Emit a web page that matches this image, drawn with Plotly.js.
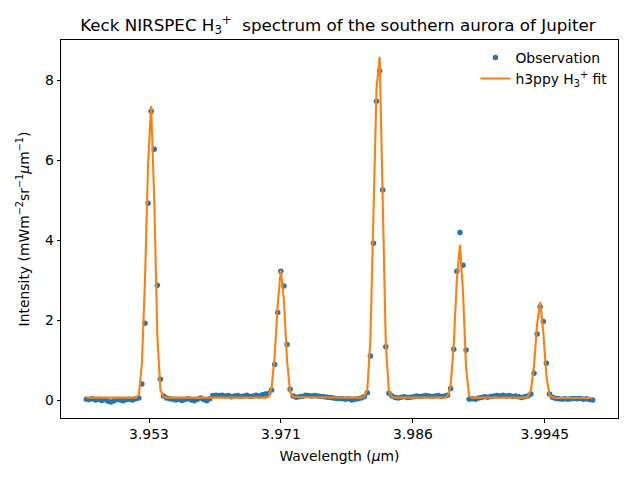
<!DOCTYPE html>
<html>
<head>
<meta charset="utf-8">
<script src="https://cdn.plot.ly/plotly-3.0.1.min.js"></script>
<style>html,body{margin:0;padding:0;background:#fff;}#chart{width:640px;height:480px;}</style>
</head>
<body>
<div id="chart"></div>
<script>
// Observed intensity per spectral pixel (index 0..164)
var observation = [
  0.02, 0.01, 0.03, 0.00, 0.02, -0.01, 0.01, -0.03, -0.05, -0.02,
  0.01, 0.00, -0.02, 0.01, 0.02, 0.00, 0.03, 0.05, 0.40, 1.92,
  4.92, 7.22, 6.27, 2.87, 0.52, 0.10, 0.05, 0.03, 0.02, 0.00,
  0.02, -0.01, 0.01, 0.03, 0.00, -0.02, 0.02, 0.05, 0.01, -0.02,
  0.03, 0.11, 0.12, 0.11, 0.12, 0.10, 0.11, 0.08, 0.10, 0.11,
  0.09, 0.10, 0.12, 0.09, 0.10, 0.12, 0.10, 0.13, 0.15, 0.16,
  0.25, 0.89, 2.19, 3.22, 2.85, 1.39, 0.27, 0.10, 0.07, 0.08,
  0.09, 0.12, 0.11, 0.10, 0.11, 0.10, 0.09, 0.08, 0.07, 0.06,
  0.05, 0.04, 0.04, 0.03, 0.02, 0.03, 0.00, 0.02, 0.03, 0.05,
  0.08, 0.18, 1.10, 3.92, 7.47, 8.23, 5.25, 1.33, 0.17, 0.10,
  0.06, 0.05, 0.07, 0.08, 0.06, 0.07, 0.08, 0.10, 0.09, 0.10,
  0.11, 0.10, 0.09, 0.10, 0.11, 0.09, 0.10, 0.12, 0.29, 1.27,
  3.22, 4.19, 3.37, 1.25, 0.02, 0.03, 0.02, 0.05, 0.06, 0.08,
  0.07, 0.09, 0.10, 0.11, 0.10, 0.12, 0.10, 0.11, 0.09, 0.10,
  0.08, 0.06, 0.08, 0.10, 0.15, 0.67, 1.65, 2.33, 1.96, 0.92,
  0.15, 0.07, 0.04, 0.03, 0.02, 0.03, 0.02, 0.03, 0.04, 0.03,
  0.04, 0.02, 0.03, 0.01, 0.00
];
// h3ppy model fit per spectral pixel
var fit = [
  0.06, 0.06, 0.06, 0.06, 0.06, 0.06, 0.06, 0.06, 0.06, 0.06,
  0.06, 0.06, 0.06, 0.06, 0.06, 0.06, 0.06, 0.12, 0.90, 3.00,
  5.90, 7.35, 5.00, 1.60, 0.25, 0.08, 0.06, 0.06, 0.06, 0.06,
  0.06, 0.06, 0.06, 0.06, 0.06, 0.06, 0.06, 0.06, 0.06, 0.06,
  0.06, 0.06, 0.06, 0.06, 0.06, 0.06, 0.06, 0.06, 0.06, 0.06,
  0.06, 0.06, 0.06, 0.06, 0.06, 0.06, 0.06, 0.06, 0.06, 0.08,
  0.30, 1.10, 2.40, 3.25, 2.50, 1.00, 0.20, 0.08, 0.07, 0.07,
  0.07, 0.07, 0.07, 0.07, 0.07, 0.07, 0.07, 0.07, 0.06, 0.06,
  0.06, 0.06, 0.06, 0.06, 0.06, 0.06, 0.06, 0.06, 0.06, 0.06,
  0.08, 0.25, 1.50, 4.50, 7.80, 8.58, 5.20, 1.40, 0.20, 0.08,
  0.06, 0.06, 0.06, 0.06, 0.06, 0.06, 0.06, 0.06, 0.06, 0.06,
  0.06, 0.06, 0.06, 0.06, 0.06, 0.06, 0.06, 0.10, 0.35, 1.40,
  3.00, 3.88, 2.70, 0.80, 0.10, 0.06, 0.06, 0.06, 0.06, 0.06,
  0.06, 0.06, 0.06, 0.06, 0.06, 0.06, 0.06, 0.06, 0.06, 0.06,
  0.06, 0.06, 0.06, 0.08, 0.25, 0.85, 1.90, 2.45, 1.70, 0.60,
  0.12, 0.07, 0.05, 0.05, 0.05, 0.05, 0.05, 0.05, 0.05, 0.05,
  0.05, 0.05, 0.05, 0.05, 0.05
];
var tickPixels = [20.3, 63.05, 105.8, 148.5];
var tickLabels = ["3.953", "3.971", "3.986", "3.9945"];

var pixel = observation.map(function (_, i) { return i; });

var font = "DejaVu Sans, Verdana, sans-serif";

var traces = [
  {
    x: pixel, y: observation, type: "scatter", mode: "markers",
    name: "Observation",
    marker: {color: "#1f77b4", size: 5.5}
  },
  {
    x: pixel, y: fit, type: "scatter", mode: "lines",
    name: "h3ppy H<sub>3</sub><sup>+</sup> fit",
    line: {color: "#ff7f0e", width: 2.1}
  }
];

var n = pixel.length - 1;
var pad = n * 0.05;

var layout = {
  width: 640, height: 480,
  margin: {l: 61, r: 22, t: 40, b: 62},
  paper_bgcolor: "#fff", plot_bgcolor: "#fff",
  font: {family: font, size: 13.9, color: "#000"},
  title: {
    text: "Keck NIRSPEC H<sub>3</sub><sup>+</sup>  spectrum of the southern aurora of Jupiter",
    font: {family: font, size: 16.7, color: "#000"},
    x: 0.528, xanchor: "center", y: 0.948, yanchor: "middle", yref: "container"
  },
  showlegend: true,
  legend: {
    x: 0.99, y: 0.995, xanchor: "right", yanchor: "top",
    bgcolor: "rgba(255,255,255,0)", borderwidth: 0,
    font: {family: font, size: 13.9, color: "#000"},
    tracegroupgap: 2
  },
  xaxis: {
    range: [-pad, n + pad],
    tickmode: "array", tickvals: tickPixels, ticktext: tickLabels,
    showgrid: false, zeroline: false,
    showline: true, linecolor: "#000", linewidth: 1, mirror: true,
    ticks: "outside", ticklen: 3.5, tickwidth: 1, tickcolor: "#000",
    tickfont: {family: font, size: 13.9, color: "#000"},
    title: {text: "Wavelength (<i>μ</i>m)", font: {family: font, size: 13.9, color: "#000"}, standoff: 10}
  },
  yaxis: {
    range: [-0.45, 9.0],
    tickmode: "array", tickvals: [0, 2, 4, 6, 8],
    showgrid: false, zeroline: false,
    showline: true, linecolor: "#000", linewidth: 1, mirror: true,
    ticks: "outside", ticklen: 3.5, tickwidth: 1, tickcolor: "#000",
    tickfont: {family: font, size: 13.9, color: "#000"},
    title: {text: "Intensity (mWm<sup>−2</sup>sr<sup>−1</sup><i>μ</i>m<sup>−1</sup>)", font: {family: font, size: 13.9, color: "#000"}, standoff: 12}
  }
};

Plotly.newPlot("chart", traces, layout, {displayModeBar: false, staticPlot: true});
</script>
</body>
</html>
